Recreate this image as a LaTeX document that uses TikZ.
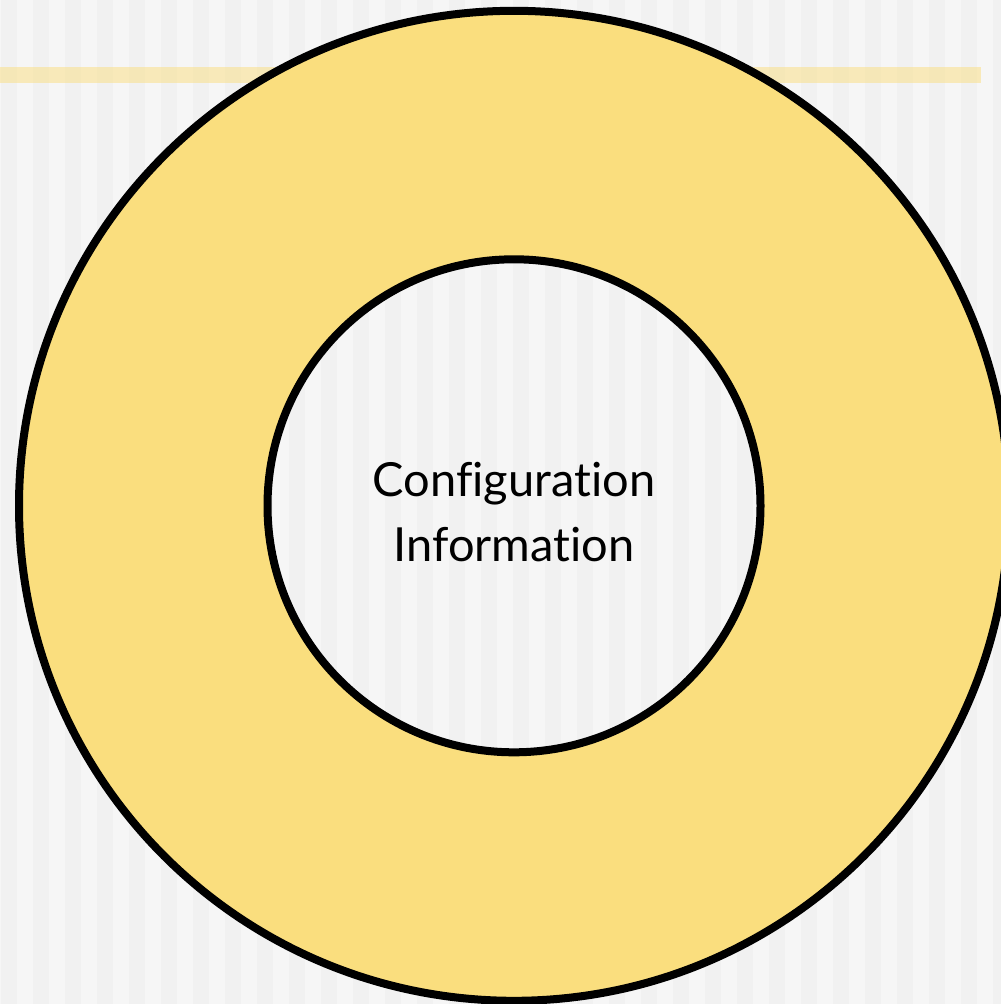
\documentclass[tikz,border=0pt]{standalone}
\usepackage{fontspec}
\setmainfont{Lato}[Ligatures={NoCommon}]
\definecolor{bglight}{HTML}{F6F6F6}
\definecolor{bgdark}{HTML}{F1F1F1}
\definecolor{ringyellow}{HTML}{FADE7E}
\tikzset{
  ringline/.style={draw=black, line width=8pt},
  stripe/.style={fill=bgdark},
  band/.style={fill=ringyellow, fill opacity=0.5},
  label/.style={align=center, font=\fontsize{47}{65}\selectfont, text=black, inner sep=0pt}
}
\begin{document}
\begin{tikzpicture}[x=1pt,y=-1pt]
\useasboundingbox (0,0) rectangle (1001,1004);
\clip (0,0) rectangle (1001,1004);
\fill[bglight] (0,0) rectangle (1001,1004);
\foreach \k in {0,...,31} {
  \fill[stripe] ({0.7+32*\k},0) rectangle ({16.7+32*\k},1004);
}
\fill[band] (0,67) rectangle (981,83);
\coordinate (c) at (514,505.8);
\fill[ringyellow, even odd rule] (c) circle[radius=495] (c) circle[radius=246.5];
\draw[ringline] (c) circle[radius=495];
\draw[ringline] (c) circle[radius=246.5];
\node[label] (txt) at (514,512) {Configuration\\Information};
\end{tikzpicture}
\end{document}
